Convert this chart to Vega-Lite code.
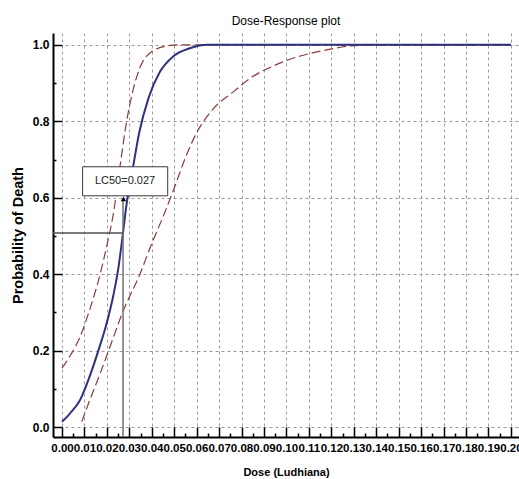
{
  "$schema": "https://vega.github.io/schema/vega-lite/v6.json",
  "width": 466,
  "height": 404,
  "autosize": "none",
  "padding": {"left": 53, "top": 33, "right": 0, "bottom": 42},
  "background": "white",
  "config": {"view": {"stroke": null}},
  "title": {"text": "Dose-Response plot", "font": "Liberation Sans", "fontSize": 12, "fontWeight": "normal", "color": "#000", "offset": 5, "anchor": "middle"},
  "datasets": {
    "fit": [
      {"d": 0.0, "p": 0.014}, {"d": 0.0036, "p": 0.036}, {"d": 0.008, "p": 0.07}, {"d": 0.0125, "p": 0.135},
      {"d": 0.0162, "p": 0.2}, {"d": 0.0196, "p": 0.265}, {"d": 0.0229, "p": 0.345}, {"d": 0.0251, "p": 0.415},
      {"d": 0.0268, "p": 0.49}, {"d": 0.0287, "p": 0.58}, {"d": 0.0318, "p": 0.685}, {"d": 0.0344, "p": 0.77},
      {"d": 0.0385, "p": 0.86}, {"d": 0.0437, "p": 0.93}, {"d": 0.0496, "p": 0.97}, {"d": 0.057, "p": 0.991},
      {"d": 0.065, "p": 1.0}, {"d": 0.2, "p": 1.0}
    ],
    "upper": [
      {"d": 0.0, "p": 0.154}, {"d": 0.004, "p": 0.19}, {"d": 0.008, "p": 0.235}, {"d": 0.0125, "p": 0.31},
      {"d": 0.017, "p": 0.4}, {"d": 0.02, "p": 0.475}, {"d": 0.0228, "p": 0.555}, {"d": 0.0258, "p": 0.68},
      {"d": 0.0288, "p": 0.8}, {"d": 0.0318, "p": 0.885}, {"d": 0.0347, "p": 0.94}, {"d": 0.0407, "p": 0.985},
      {"d": 0.0467, "p": 0.997}, {"d": 0.052, "p": 1.0}, {"d": 0.2, "p": 1.0}
    ],
    "lower": [
      {"d": 0.0088, "p": 0.014}, {"d": 0.013, "p": 0.08}, {"d": 0.017, "p": 0.14}, {"d": 0.022, "p": 0.22},
      {"d": 0.027, "p": 0.3}, {"d": 0.0347, "p": 0.4}, {"d": 0.04, "p": 0.48}, {"d": 0.045, "p": 0.55},
      {"d": 0.05, "p": 0.625}, {"d": 0.055, "p": 0.705}, {"d": 0.06, "p": 0.77}, {"d": 0.067, "p": 0.83},
      {"d": 0.0763, "p": 0.877}, {"d": 0.085, "p": 0.917}, {"d": 0.095, "p": 0.947}, {"d": 0.103, "p": 0.965},
      {"d": 0.118, "p": 0.987}, {"d": 0.13, "p": 0.998}, {"d": 0.14, "p": 1.0}, {"d": 0.2, "p": 1.0}
    ]
  },
  "resolve": {"axis": {"x": "independent", "y": "independent"}},
  "layer": [
    {
      "data": {"name": "upper"},
      "mark": {"type": "line", "color": "#8c3b3b", "strokeWidth": 1.2, "strokeDash": [9, 4], "interpolate": "monotone"},
      "encoding": {
        "x": {"field": "d", "type": "quantitative", "scale": {"domain": [-0.004, 0.2036], "nice": false, "zero": false},
          "axis": {
            "orient": "bottom",
            "values": [0,0.01,0.02,0.03,0.04,0.05,0.06,0.07,0.08,0.09,0.1,0.11,0.12,0.13,0.14,0.15,0.16,0.17,0.18,0.19,0.2],
            "format": ".2f",
            "labelFont": "Liberation Sans", "labelFontWeight": "bold", "labelFontSize": 11.5, "labelColor": "#000",
            "labelPadding": 15, "labelOverlap": false, "labelFlush": false, "labelBound": false,
            "tickSize": -10, "tickWidth": 1.5, "tickColor": "#000",
            "domainColor": "#000", "domainWidth": 2,
            "grid": true, "gridColor": "#9a9a9a", "gridDash": [3, 3], "gridWidth": 1,
            "title": "Dose (Ludhiana)", "titleFont": "Liberation Sans", "titleFontWeight": "bold", "titleFontSize": 11,
            "titleColor": "#000", "titleY": 38, "titleBaseline": "alphabetic"
          }
        },
        "y": {"field": "p", "type": "quantitative", "scale": {"domain": [-0.026, 1.031], "nice": false, "zero": false},
          "axis": {
            "orient": "left",
            "values": [0,0.2,0.4,0.6,0.8,1.0],
            "format": ".1f",
            "labelFont": "Liberation Sans", "labelFontWeight": "bold", "labelFontSize": 12, "labelColor": "#000",
            "labelPadding": 13, "labelOverlap": false, "labelFlush": false, "labelBound": false,
            "tickSize": -9, "tickWidth": 1.5, "tickColor": "#000",
            "domainColor": "#000", "domainWidth": 2,
            "grid": true, "gridColor": "#9a9a9a", "gridDash": [3, 3], "gridWidth": 1,
            "title": "Probability of Death", "titleFont": "Liberation Sans", "titleFontWeight": "bold", "titleFontSize": 14.5,
            "titleColor": "#000", "titleX": -35, "titleBaseline": "middle"
          }
        }
      }
    },
    {
      "data": {"name": "lower"},
      "mark": {"type": "line", "color": "#8c3b3b", "strokeWidth": 1.2, "strokeDash": [9, 4], "interpolate": "monotone"},
      "encoding": {
        "x": {"field": "d", "type": "quantitative", "scale": {"domain": [-0.004, 0.2036], "nice": false, "zero": false},
          "axis": {"orient": "bottom", "values": [0.005,0.015,0.025,0.035,0.045,0.055,0.065,0.075,0.085,0.095,0.105,0.115,0.125,0.135,0.145,0.155,0.165,0.175,0.185,0.195],
            "labels": false, "grid": false, "domain": false, "title": null, "tickSize": -4, "tickWidth": 1.5, "tickColor": "#000"}},
        "y": {"field": "p", "type": "quantitative", "scale": {"domain": [-0.026, 1.031], "nice": false, "zero": false},
          "axis": {"orient": "left", "values": [0.1,0.3,0.5,0.7,0.9],
            "labels": false, "grid": false, "domain": false, "title": null, "tickSize": -3, "tickWidth": 1.5, "tickColor": "#000"}}
      }
    },
    {
      "data": {"name": "fit"},
      "mark": {"type": "line", "color": "#2e3182", "strokeWidth": 2, "interpolate": "monotone"},
      "encoding": {
        "x": {"field": "d", "type": "quantitative", "scale": {"domain": [-0.004, 0.2036], "nice": false, "zero": false}, "axis": null},
        "y": {"field": "p", "type": "quantitative", "scale": {"domain": [-0.026, 1.031], "nice": false, "zero": false}, "axis": null}
      }
    },
    {
      "data": {"values": [{}]},
      "mark": {"type": "rule", "color": "#505050", "strokeWidth": 1.5},
      "encoding": {
        "x": {"datum": -0.004, "type": "quantitative", "scale": {"domain": [-0.004, 0.2036], "nice": false, "zero": false}, "axis": null},
        "x2": {"datum": 0.0268},
        "y": {"datum": 0.508, "type": "quantitative", "scale": {"domain": [-0.026, 1.031], "nice": false, "zero": false}, "axis": null}
      }
    },
    {
      "data": {"values": [{}]},
      "mark": {"type": "rule", "color": "#707070", "strokeWidth": 1.5},
      "encoding": {
        "x": {"datum": 0.0272, "type": "quantitative", "scale": {"domain": [-0.004, 0.2036], "nice": false, "zero": false}, "axis": null},
        "y": {"datum": -0.026, "type": "quantitative", "scale": {"domain": [-0.026, 1.031], "nice": false, "zero": false}, "axis": null},
        "y2": {"datum": 0.595}
      }
    },
    {
      "data": {"values": [{}]},
      "mark": {"type": "rect", "fill": "white", "stroke": "#3a3a3a", "strokeWidth": 1},
      "encoding": {
        "x": {"datum": 0.0092, "type": "quantitative", "scale": {"domain": [-0.004, 0.2036], "nice": false, "zero": false}, "axis": null},
        "x2": {"datum": 0.0471},
        "y": {"datum": 0.605, "type": "quantitative", "scale": {"domain": [-0.026, 1.031], "nice": false, "zero": false}, "axis": null},
        "y2": {"datum": 0.681}
      }
    },
    {
      "data": {"values": [{}]},
      "mark": {"type": "point", "shape": "triangle-up", "filled": true, "color": "#000", "size": 30, "opacity": 1},
      "encoding": {
        "x": {"datum": 0.0274, "type": "quantitative", "scale": {"domain": [-0.004, 0.2036], "nice": false, "zero": false}, "axis": null},
        "y": {"datum": 0.597, "type": "quantitative", "scale": {"domain": [-0.026, 1.031], "nice": false, "zero": false}, "axis": null}
      }
    },
    {
      "data": {"values": [{}]},
      "mark": {"type": "text", "text": "LC50=0.027", "font": "Liberation Sans", "fontSize": 11, "color": "#222", "align": "center", "baseline": "middle"},
      "encoding": {
        "x": {"datum": 0.0281, "type": "quantitative", "scale": {"domain": [-0.004, 0.2036], "nice": false, "zero": false}, "axis": null},
        "y": {"datum": 0.643, "type": "quantitative", "scale": {"domain": [-0.026, 1.031], "nice": false, "zero": false}, "axis": null}
      }
    }
  ]
}
